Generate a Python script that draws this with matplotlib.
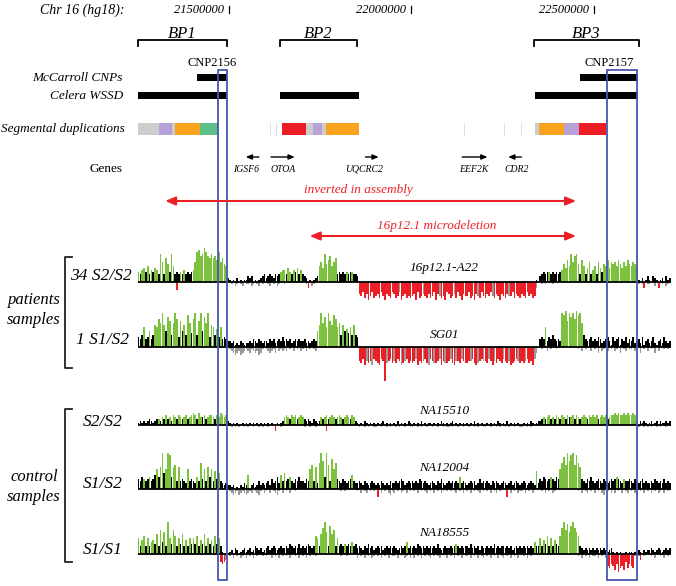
# ==============================================================================
# 16p12.1 REGION: ANNOTATION TRACKS AND ARRAY-CGH PROFILES
# ==============================================================================
import numpy as np
import matplotlib
matplotlib.use('Agg')
import matplotlib.pyplot as plt
from matplotlib.patches import Rectangle
from matplotlib.transforms import blended_transform_factory

plt.rcParams['font.family'] = 'Liberation Serif'

# ------------------------------------------------------------------------------
# DATA (chr16, hg18)
# ------------------------------------------------------------------------------
axis_ticks = [21500000, 22000000, 22500000]

bp_names = ['BP1', 'BP2', 'BP3']
bp_spans = [(21251000, 21495000), (21639000, 21852000), (22336000, 22623000)]

cnp_names = ['CNP2156', 'CNP2157']
cnp_spans = [(21413000, 21495000), (22462000, 22620000)]

wssd_spans = [(21251000, 21495000), (21639000, 21855000), (22339000, 22620000)]

segdup_spans = [(21251000, 21309000), (21309000, 21344000), (21344000, 21352000),
                (21352000, 21421000), (21421000, 21470000),
                (21645000, 21710000), (21710000, 21729000), (21729000, 21754000),
                (21754000, 21765000), (21765000, 21855000),
                (22339000, 22350000), (22350000, 22418000), (22418000, 22459000),
                (22459000, 22533000)]
segdup_kind = ['grey', 'purple', 'grey', 'orange', 'green',
               'red', 'grey', 'purple', 'grey', 'orange',
               'grey', 'orange', 'purple', 'red']
segdup_faint = [21612000, 21628000, 22145000, 22254000, 22300000]

gene_names = ['IGSF6', 'OTOA', 'UQCRC2', 'EEF2K', 'CDR2']
gene_from = [21582000, 21615000, 21874000, 22139000, 22301000]
gene_to = [21546000, 21680000, 21910000, 22208000, 22265000]
gene_label_at = [21546000, 21647000, 21869000, 22172000, 22287000]

inversion = (21325000, 22451000)
inversion_label_at = 21855000
deletion = (21721000, 22451000)
deletion_label_at = 22070000

highlight_spans = [(21470000, 21495000), (22535000, 22617000)]

# probe profiles: one char per 5 kb bin from 21.25 Mb
# '.' = 0, letter = |log2 ratio| in 0.1 steps (a=0.1 ... r=1.8)
# uppercase = called gain (up) / loss (down), lowercase = not called
probe_start = 21250000
probe_bin = 5000

a22_up = ("EdFGeHdFeG FdNJdLIeNH dedEdFdede FJOPMNQOML NLMKOJLIHb "
          "a.a.b.a.aa cbc.a.abcd bcdcbdcdEF FdGEdFeGdF dcb.a.abcH "
          "JGNIKMHJLd ededEdeEdd c......... .......... .......... "
          ".......... .......... .......... .......... .......... "
          ".......... ........a. cdedeEdede deFIGKHNJM NIdKHdGJdF "
          "HdJGeIHKGJ IJHKIGJHKI HJIGa.b.ac a.cba.ab.c ab")
a22_dn = (".......... .......... .D........ .......... .......... "
          ".a.ba.ab.a a.ba.ab.a. .ab.a.ba.. a......... ..aC.ba... "
          ".......... .......... .FGEHFIGEH GFHEGIFGHE FHGeIGFHGH "
          "GFIEHGfGHF HGEIFgHGIE FHGfHEGIFG GEHGIFgHEG HFGEgHFGIF "
          "GHFgGEHFGH FGHEGFHGc. .a.a...a.. .......... .......... "
          ".......... .......... ....a.aC.a a..b.C.a.b a.")

sg01_up = ("edfJdeHdfK JNLQKhOMfL QNeMhKfPLg NQfMQhOLQe KJfIeJdedc "
           "cbcabacbab bcbdcbdcbc cbdcdbcdce cdcdbcdcdc cdbcbcdcHK "
           "QLOJQMKPNJ LfKhIgJfKf e......... .......... .......... "
           ".......... .......... .......... .......... .......... "
           ".......... .......... dedJcedfdc dcQPRMQOQN RPQLfdcdec "
           "dcedbcdeca ecdeadcebd cebcdbeacd bcebacdbec bc")
sg01_dn = (".......... .......... .......... .......... .......... "
           "abcdcbdcba bcabcbdca. abcbac.bab ab.a.b.a.b a.b.a.ab.. "
           ".......... .......... .GHFIgHGiF GHIFGQhGFH gHFGiHgFHG "
           "HGfIGHgFHi FGhHGfIGhH GfHIgGHfGH HGgFHIhGFg GHfGIgHFGH "
           "fGHgIHGFgH GHgFHGIfc. .a..b.a..a .......... .a.b.a..b. "
           "a.c.ba.b.a .ba.c.ab.a a.b..c.a.b .a.c.b..a. a.")

na15510_up = ("abababcbab cCbDcEcDbE DcEDcDEcDE FEcFDdEcDE EDcEDFEDEb "
              "a.a.a..a.a .a.a.a.a.a .a.a..a.ab DEDcEDEcDE Dcbcbacbab "
              "DcDEcDEDcD EDcDEDcEDb a.a.ba.a.a .a.ab.a.a. a.b.a.a.ba "
              ".a.a.b.a.a a.a.a.ba.a .ab.a.a.a. a.a.b.a.a. .a.a.a.ba. "
              "a.b.a.a.a. .a.a.ba.ab bcDcDEcDcE DcEDcEdDEc EDcDEDcEDE "
              "DEcDEDEcDE EFEFEEFEFE EFEa.baba. ab.ab.baab ab")
na15510_dn = (".......... .......... .......... .......... .......... "
              ".a.a.a..a. a..a..a.a. .a...C..a. .......... .a..a..a.. "
              "...C...... .......... .a..a.a..a a..a..a.a. .a.a..a..a "
              "a..a.a..a. .a..a..a.a a.a..a..a. .a..a.a..a a..a..a.a. "
              ".a.a..a..a a..a.a.... .......... .......... .......... "
              ".......... .......... ....a..a.a .a..a.a..a ..")

na12004_up = ("edfEdeFdeg JfKRhJRQfK LdKdedcJde dcFdMeJdKf JdIeHdcbcb "
              "bab.a.bacb G.bcabdbcb cdbecdfcGd HdeFdcedfd dcedJLdKcM "
              "RNfRLdOJMe dcedcdeGdc cdcbdcbcdc bcbdcbcbdc cdcdedbcdc "
              "dcdcedcdcb cdcbdcecbc dcdcdcFcdc bcdcdbcecd cdcbdcdcbc "
              "dcbcdbcdcb cdcbcdcbIc edfedeFedf eJMPLRNQRL QMKedcedfd "
              "cdedcedcde deFedcEdde dcedcdecdc cdcedcdcec dc")
na12004_dn = (".......... .......... .......... .......... .......... "
              "abcbacbabc bab.abca.b a.b.abca.b .a.b..a... .......... "
              ".......... .a.a...... a.b.ab.a.a .D.b.a.bca b.a.ba.b.a "
              ".a.b.a.ab. a.b.a.ba.a .a.ab.a.b. a.b.a.ab.a .a.b.ab.a. "
              "..D.b.a.ba a.b.a.b... .a.b.a.ba. .......... .a.b.ab.a. "
              "b.a.bc.a.b .b.a.b.ab. a.bc.a.b.a .b.a.ba.b. a.")

na18555_up = ("HdGIdHdFGe JdLfKdPHeL IdHeJdGdHe HeIdGeJdHe GdIeHda... "
              "ab.cb.abca bcabdcbcab cdbcdcbcdc cdcedcdcec dcdedcdIHd "
              "JMPKdNJLdH dedEdedFde cdcbdcecdb cdcdbcdcdc dcbcdcdFcd "
              "cdcedcdcdc dcdcecbcdc cdcdEdcdcd dcecdcdbdc cdcdcecdcd "
              "dcdcdbcdcd cdcdcdcFdd HdGeIdHdGe dIMPLOKNPM KIdcbcbcbc "
              "bcbcbcbabc a.a.a..a.a a.a.ba.bab bcbabcbabc bc")
na18555_dn = (".......... .......... .......... .......... .....DEDc. "
              "a.b.a.ba.b .a.b.a..a. a..b.a.b.a .a.b..a.b. a.b.a..a.. "
              ".......... .a..a..... b.a.b.a.ba .a.b.a.b.a a.b.a.ba.b "
              ".b.a.b.a.a b.a.ab.a.b .a.b.a.b.a a.b.a.b.ab .a.b.a.b.a "
              "b.a.b.a.b. .a.b.a.... .......... .......... .a.b.a.b.a "
              "a.b.a.bFGE FHEIGFHDGE FGa.aC.a.. .a.b..a.b. a.")

track_up = [a22_up, sg01_up, na15510_up, na12004_up, na18555_up]
track_dn = [a22_dn, sg01_dn, na15510_dn, na12004_dn, na18555_dn]
track_labels = ['34 S2/S2', '1 S1/S2', 'S2/S2', 'S1/S2', 'S1/S1']
sample_names = ['16p12.1-A22', 'SG01', 'NA15510', 'NA12004', 'NA18555']

# ------------------------------------------------------------------------------
# STYLE / LAYOUT
# ------------------------------------------------------------------------------
W, H = 676, 586
BP_PER_PX = 500000 / 182.5
X_LEFT = axis_ticks[0] - 229 * BP_PER_PX
X_RIGHT = X_LEFT + W * BP_PER_PX

GREEN = '#7cc23e'
RED = '#ec1f27'
GREY = '#999999'
BLACK = '#000000'
BLUE = '#4657b3'
SEG_COLORS = {'grey': '#cdcdcd', 'purple': '#b7a2d8', 'orange': '#f8a31e',
              'green': '#5dbf88', 'red': '#ed1c24'}

track_base = [281.5, 346.5, 424.5, 489, 554]
track_label_right = [132, 129, 123, 123, 123]
track_label_dy = [-5, -6, -3, -5, -4]
sample_dy = [-13, -12, -14, -21, -21]


def decode(code):
    """Probe string -> (|log2 ratio| per bin, called flag per bin)."""
    code = code.replace(' ', '')
    vals = np.array([0 if c == '.' else ord(c.lower()) - 96 for c in code]) / 10
    called = np.array([c.isupper() for c in code])
    return vals, called


def draw_track(ax, up_code, dn_code):
    up, up_call = decode(up_code)
    dn, dn_call = decode(dn_code)
    x_up = probe_start + (np.arange(len(up)) + 0.5) * probe_bin
    x_dn = probe_start + (np.arange(len(dn)) + 0.5) * probe_bin
    # crisp (non antialiased) bars give the spiky look of the probe plots
    ax.bar(x_up, up, width=0.9 * probe_bin, color=np.where(up_call, GREEN, BLACK),
           linewidth=0, antialiased=False)
    ax.bar(x_dn, -dn, width=0.9 * probe_bin, color=np.where(dn_call, RED, GREY),
           linewidth=0, antialiased=False)
    ax.plot([probe_start, probe_start + len(up) * probe_bin], [0, 0],
            color='k', lw=1.3, solid_capstyle='butt')


fig = plt.figure(figsize=(W / 100, H / 100), dpi=100)

# ------------------------------------------------------------------------------
# PROFILE TRACKS
# ------------------------------------------------------------------------------
for yb, up_code, dn_code in zip(track_base, track_up, track_dn):
    tax = fig.add_axes([0, 1 - (yb + 45) / H, 1, 90 / H])
    draw_track(tax, up_code, dn_code)
    tax.set_xlim(X_LEFT, X_RIGHT)
    tax.set_ylim(-2.25, 2.25)
    tax.axis('off')

# ------------------------------------------------------------------------------
# ANNOTATION LAYER (x = genome, y = pixel rows)
# ------------------------------------------------------------------------------
ax = fig.add_axes([0, 0, 1, 1])
ax.set_xlim(X_LEFT, X_RIGHT)
ax.set_ylim(H, 0)
ax.axis('off')
lab = blended_transform_factory(ax.transAxes, ax.transData)
it = dict(style='italic')

ax.text(124 / W, 10, 'Chr 16 (hg18):', transform=lab, ha='right', va='center',
        fontsize=10, **it)
for t in axis_ticks:
    ax.plot([t, t], [6, 13], color='k', lw=0.9)
    ax.annotate(f'{t}', (t, 10), xytext=(-5, 0), textcoords='offset pixels',
                ha='right', va='center', fontsize=9, **it)

for name, (a, b) in zip(bp_names, bp_spans):
    ax.plot([a, a, b, b], [46, 40, 40, 46], color='k', lw=1.3)
    ax.text((a + b) / 2, 38, name, ha='center', va='baseline', fontsize=12, **it)

for name, (a, b) in zip(cnp_names, cnp_spans):
    ax.add_patch(Rectangle((a, 74), b - a, 7, color='k', lw=0))
    ax.text((a + b) / 2, 63, name, ha='center', va='center', fontsize=9)

for a, b in wssd_spans:
    ax.add_patch(Rectangle((a, 92), b - a, 7, color='k', lw=0))

for (a, b), kind in zip(segdup_spans, segdup_kind):
    ax.add_patch(Rectangle((a, 123), b - a, 12, color=SEG_COLORS[kind], lw=0))
for f in segdup_faint:
    ax.plot([f, f], [123, 135], color='#dedede', lw=0.7)

ax.text(123 / W, 78, 'McCarroll CNPs', transform=lab, ha='right', va='center',
        fontsize=9.5, **it)
ax.text(123 / W, 96, 'Celera WSSD', transform=lab, ha='right', va='center',
        fontsize=9.5, **it)
ax.text(125 / W, 129, 'Segmental duplications', transform=lab, ha='right',
        va='center', fontsize=9.5, **it)
ax.text(122 / W, 169, 'Genes', transform=lab, ha='right', va='center',
        fontsize=9.5)

for name, a, b, c in zip(gene_names, gene_from, gene_to, gene_label_at):
    ax.annotate('', xy=(b, 157), xytext=(a, 157),
                arrowprops=dict(arrowstyle='-|>,head_length=0.35,head_width=0.15',
                                color='k', lw=1, shrinkA=0, shrinkB=0))
    ax.text(c, 169, name, ha='center', va='center', fontsize=7, **it)

for (a, b), y, tx, ty, txt in [(inversion, 201, inversion_label_at, 190,
                                'inverted in assembly'),
                               (deletion, 236, deletion_label_at, 226,
                                '16p12.1 microdeletion')]:
    ax.annotate('', xy=(a, y), xytext=(b, y),
                arrowprops=dict(arrowstyle='<|-|>,head_length=0.6,head_width=0.25',
                                color=RED, lw=1.5, shrinkA=0, shrinkB=0))
    ax.text(tx, ty, txt, ha='center', va='center', fontsize=9.5, color=RED, **it)

# track labels and sample names
for yb, lbl, xr, dy, name, sdy in zip(track_base, track_labels, track_label_right,
                                      track_label_dy, sample_names, sample_dy):
    ax.text(xr / W, yb + dy, lbl, transform=lab, ha='right', va='center',
            fontsize=12.5, **it)
    ax.text(22090000, yb + sdy, name, ha='center', va='center', fontsize=9.5, **it)

# group brackets
for y0, y1, words, wy in [(257, 368, ['patients', 'samples'], [300, 320]),
                          (409, 562, ['control', 'samples'], [477, 497])]:
    ax.plot([72 / W, 65 / W, 65 / W, 72 / W], [y0, y0, y1, y1], transform=lab,
            color='#222222', lw=1.3)
    for w, yy in zip(words, wy):
        ax.text(34 / W, yy, w, transform=lab, ha='center', va='center',
                fontsize=12, **it)

# highlighted CNP boxes
for a, b in highlight_spans:
    ax.add_patch(Rectangle((a, 70), b - a, 510, fill=False, edgecolor=BLUE,
                           lw=1.3))

fig.savefig('out.png', dpi=100)
